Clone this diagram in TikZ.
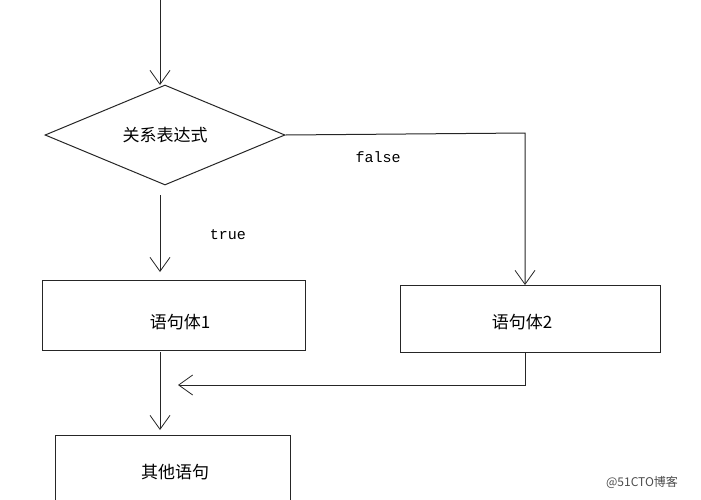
\documentclass[tikz,border=0pt]{standalone}
\usepackage{fontspec}
\setmonofont{Liberation Mono}
\newfontfamily\cjk{Noto Sans CJK SC}
\usetikzlibrary{arrows.meta,shapes.geometric}
\begin{document}
\begin{tikzpicture}[x=1pt,y=-1pt,
  ln/.style={draw=black!85,line width=1pt},
  arr/.style={ln,-{Straight Barb[length=14pt,width=20pt,line width=0.8pt]}},
  boxn/.style={ln,rectangle,inner sep=0pt,font=\cjk\fontsize{17}{20}\selectfont},
  lab/.style={font=\ttfamily\fontsize{15}{18}\selectfont}]
\useasboundingbox (0,0) rectangle (701,499);
\clip (0,0) rectangle (701,499);
\coordinate (top) at (160,0);
\node[ln,diamond,aspect=2.4,minimum width=240pt,minimum height=100pt,inner sep=0pt] (d) at (165,135) {};
\node[font=\cjk\fontsize{17}{20}\selectfont] at (165,135) {关系表达式};
\node[boxn,minimum width=263pt,minimum height=70pt] (b1) at (173.5,315) {};
\node[font=\cjk\fontsize{17}{20}\selectfont] at (180,322) {语句体1};
\node[boxn,minimum width=260pt,minimum height=67pt] (b2) at (530,318.5) {};
\node[font=\cjk\fontsize{17}{20}\selectfont] at (522,322) {语句体2};
\node[boxn,minimum width=235pt,minimum height=100pt] (b3) at (172.5,485) {};
\node[font=\cjk\fontsize{17}{20}\selectfont] at (175,472) {其他语句};
\coordinate (d1) at (160,195);
\coordinate (b1a) at (160,352);
\coordinate (b2a) at (525,352);
\coordinate (m) at (178,385);
\draw[arr] (top) -- (160,85);
\draw[arr] (d.east) -- (525,133) -- (525,285);
\draw[arr] (d1) -- (160,272);
\draw[arr] (b1a) -- (160,430);
\draw[arr] (b2a) -- (525,385) -- (m);
\node[lab] at (378,157) {false};
\node[lab] at (228,235) {true};
\node[font=\cjk\fontsize{12}{14}\selectfont,text=black!70] at (642,482) {@51CTO博客};
\end{tikzpicture}
\end{document}
